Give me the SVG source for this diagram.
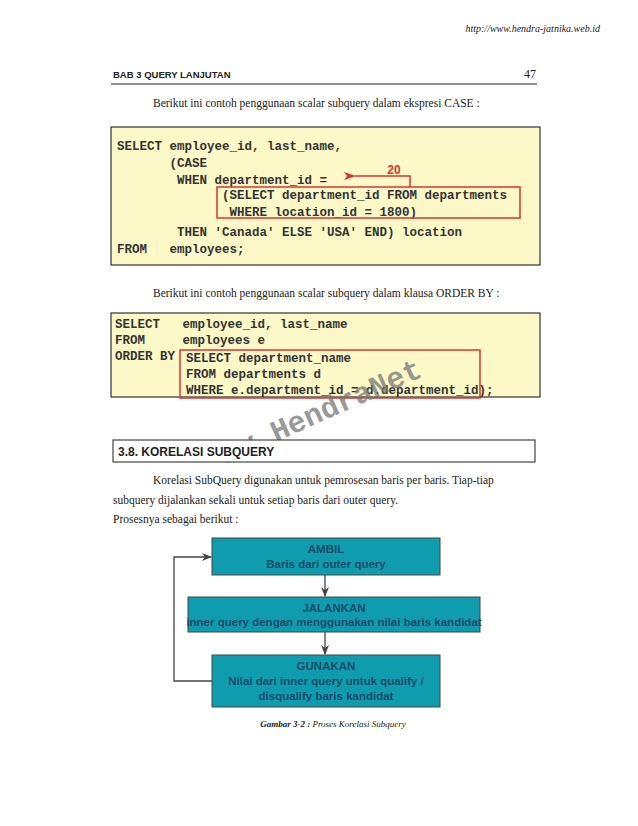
<svg xmlns="http://www.w3.org/2000/svg" width="638" height="826" viewBox="0 0 638 826">
<style>
.code{font-family:"Liberation Mono",monospace;font-weight:bold;font-size:12.5px;fill:#333}
.body{font-family:"Liberation Serif",serif;font-size:11.5px;fill:#222}
.box{fill:#fdf8c8;stroke:#333;stroke-width:1.2}
.red{fill:none;stroke:#d33;stroke-width:1.5}
.node rect{fill:#0e9cae;stroke:#444;stroke-width:1}
.node text{font-family:"Liberation Sans",sans-serif;font-weight:bold;font-size:11.5px;fill:#1d4a6a;text-anchor:middle}
.conn{stroke:#444;stroke-width:1.3;fill:none;marker-end:url(#ah)}
</style>
<defs>
<marker id="ah" markerWidth="10" markerHeight="8" refX="9" refY="4" orient="auto" markerUnits="userSpaceOnUse"><path d="M0,0 L10,4 L0,8 L3,4 z" fill="#444"/></marker>
<marker id="ahr" markerWidth="12" markerHeight="8" refX="1" refY="4" orient="auto" markerUnits="userSpaceOnUse"><path d="M12,0 L0,4 L12,8 L9,4 z" fill="#d33"/></marker>
</defs>
<rect width="638" height="826" fill="#fff"/>
<text x="600" y="32" text-anchor="end" font-family="Liberation Serif,serif" font-style="italic" font-size="10" fill="#222">http://www.hendra-jatnika.web.id</text>
<text x="113" y="78" font-family="Liberation Sans,sans-serif" font-weight="bold" font-size="9.5" fill="#222">BAB 3  QUERY LANJUTAN</text>
<text x="536" y="78" text-anchor="end" font-family="Liberation Serif,serif" font-size="12" fill="#222">47</text>
<line x1="111" y1="84" x2="537" y2="84" stroke="#222" stroke-width="1"/>
<text x="153" y="107" class="body">Berikut ini contoh penggunaan scalar subquery dalam ekspresi CASE :</text>

<rect x="111" y="127" width="429" height="138" class="box"/>
<text class="code" x="117" y="150">SELECT employee_id, last_name,</text>
<text class="code" x="117" y="167" xml:space="preserve">       (CASE</text>
<text class="code" x="117" y="184" xml:space="preserve">        WHEN department_id =</text>
<text class="code" x="117" y="199" xml:space="preserve">              (SELECT department_id FROM departments</text>
<text class="code" x="117" y="216" xml:space="preserve">               WHERE location_id = 1800)</text>
<text class="code" x="117" y="236" xml:space="preserve">        THEN 'Canada' ELSE 'USA' END) location</text>
<text class="code" x="117" y="253" xml:space="preserve">FROM   employees;</text>
<rect x="217" y="187" width="303" height="31" class="red"/>
<path d="M410,187 V176 H355" class="red" marker-end="url(#ahr)"/>
<text x="394" y="174" text-anchor="middle" font-family="Liberation Sans,sans-serif" font-weight="bold" font-size="12" fill="#d33">20</text>

<text x="153" y="297" class="body">Berikut ini contoh penggunaan scalar subquery dalam klausa ORDER BY :</text>
<rect x="111" y="313" width="429" height="84" class="box"/>
<text class="code" x="115" y="328" xml:space="preserve">SELECT   employee_id, last_name</text>
<text class="code" x="115" y="344" xml:space="preserve">FROM     employees e</text>
<text class="code" x="115" y="360" xml:space="preserve">ORDER BY</text>
<text class="code" x="186" y="362">SELECT department_name</text>
<text class="code" x="186" y="378">FROM departments d</text>
<text class="code" x="186" y="394">WHERE e.department_id = d.department_id);</text>
<rect x="180" y="350" width="300" height="48" class="red"/>

<text x="325" y="420" transform="rotate(-24 325 420)" text-anchor="middle" font-family="Liberation Mono,monospace" font-weight="bold" font-size="30" fill="#777" fill-opacity="0.75">By HendraNet</text>

<rect x="113" y="440" width="422" height="22" fill="#fff" stroke="#444" stroke-width="1.2"/>
<text x="118" y="456" font-family="Liberation Sans,sans-serif" font-weight="bold" font-size="12" fill="#222">3.8.  KORELASI SUBQUERY</text>
<text x="153" y="484" class="body">Korelasi  SubQuery  digunakan  untuk  pemrosesan  baris  per  baris.    Tiap-tiap</text>
<text x="113" y="504" class="body">subquery dijalankan sekali untuk setiap baris dari outer query.</text>
<text x="113" y="523" class="body">Prosesnya sebagai berikut :</text>

<g id="conns">
<line x1="325" y1="575" x2="325" y2="596" class="conn"/>
<line x1="325" y1="632" x2="325" y2="654" class="conn"/>
<path d="M212,681 H174 V557 H211" class="conn"/>
</g>
<g id="ambil" class="node"><rect x="212" y="538" width="228" height="37"/><text x="326" y="553">AMBIL</text><text x="326" y="568">Baris dari outer query</text></g>
<g id="jalankan" class="node"><rect x="188" y="597" width="292" height="35"/><text x="334" y="612">JALANKAN</text><text x="334" y="626">inner query dengan menggunakan nilai baris kandidat</text></g>
<g id="gunakan" class="node"><rect x="212" y="655" width="228" height="52"/><text x="326" y="670">GUNAKAN</text><text x="326" y="685">Nilai dari inner query untuk qualify /</text><text x="326" y="700">disqualify baris kandidat</text></g>
<text x="333" y="727" text-anchor="middle" font-family="Liberation Serif,serif" font-style="italic" font-size="9" fill="#222"><tspan font-weight="bold">Gambar 3-2 :</tspan>  Proses Korelasi Subquery</text>
</svg>
